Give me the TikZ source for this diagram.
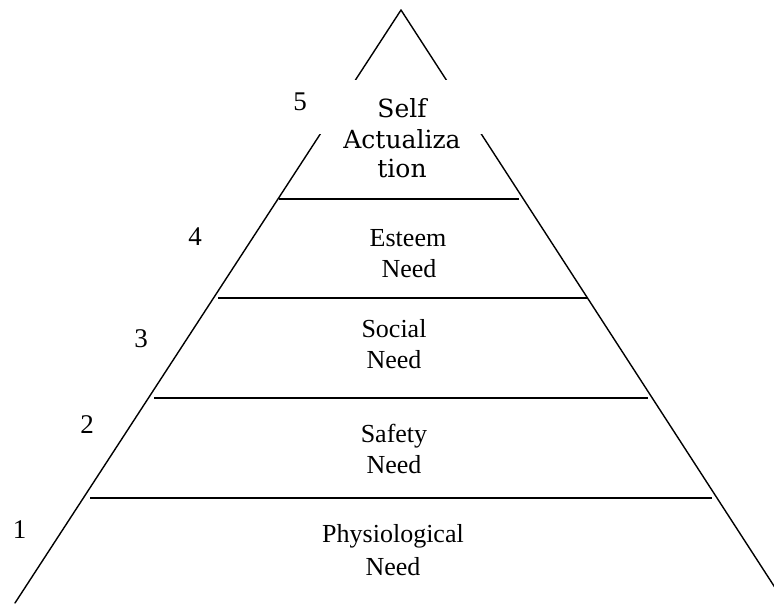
\documentclass[tikz,border=0pt]{standalone}
\usepackage{fontspec}
\setmainfont{Liberation Serif}
\newfontfamily\schfont{DejaVu Serif}
\begin{document}
\begin{tikzpicture}[x=1pt,y=-1pt,
  edge/.style={line width=1.4pt, line cap=round},
  level/.style={line width=1.8pt},
  lbl/.style={font=\fontsize{26}{31}\selectfont, inner sep=0pt, anchor=base},
  sal/.style={font=\schfont\fontsize{25}{30}\selectfont, inner sep=0pt, anchor=base},
  num/.style={font=\fontsize{27}{30}\selectfont, inner sep=0pt, anchor=base}]
\useasboundingbox (0,0) rectangle (774,605);
\clip (0,0) rectangle (774,605);
% triangle corners
\coordinate (apex) at (401,10);
\coordinate (bl) at (15,603);
\coordinate (br) at (785,603);
\draw[edge] (apex) -- (bl);
\draw[edge] (apex) -- (br);
% level dividers
\draw[level] (279,199) -- (519,199);
\draw[level] (218,298) -- (587,298);
\draw[level] (154,398) -- (648,398);
\draw[level] (90,498) -- (712,498);
% white text box of the top level
\node[fill=white, inner sep=0pt, minimum width=172pt, minimum height=54pt] (sabox) at (402,107) {};
\node[sal] (sa1) at (402,117) {Self};
\node[sal] (sa2) at (402,148) {Actualiza};
\node[sal] (sa3) at (402,177) {tion};
\node[lbl] (es1) at (408,246) {Esteem};
\node[lbl] (es2) at (409,277) {Need};
\node[lbl] (so1) at (394,337) {Social};
\node[lbl] (so2) at (394,368) {Need};
\node[lbl] (sf1) at (394,442) {Safety};
\node[lbl] (sf2) at (394,473) {Need};
\node[lbl] (ph1) at (393,542) {Physiological};
\node[lbl] (ph2) at (393,575) {Need};
% level numbers
\node[num] (n5) at (300,110) {5};
\node[num] (n4) at (195,245) {4};
\node[num] (n3) at (141,347) {3};
\node[num] (n2) at (87,433) {2};
\node[num] (n1) at (19.5,538) {1};
\end{tikzpicture}
\end{document}
